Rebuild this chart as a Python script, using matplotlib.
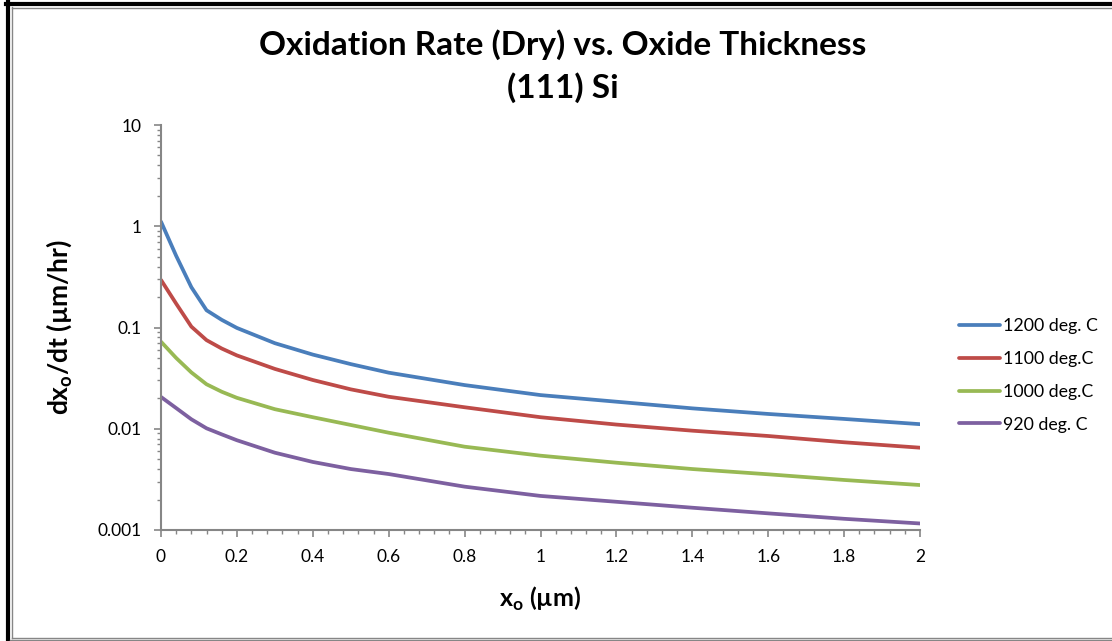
import matplotlib
matplotlib.use("Agg")
import matplotlib.pyplot as plt
from matplotlib.lines import Line2D
from matplotlib.ticker import LogLocator, MultipleLocator, FixedFormatter, FixedLocator

plt.rcParams['font.family'] = ['Lato', 'DejaVu Sans']

# oxide thickness (um)
x_o = [0, 0.04, 0.08, 0.12, 0.16, 0.2, 0.3, 0.4, 0.5, 0.6, 0.8,
       1.0, 1.2, 1.4, 1.6, 1.8, 2.0]

# oxidation rate dx/dt (um/hr)
rate_1200 = [1.11, 0.51, 0.25, 0.148, 0.119, 0.099, 0.070, 0.054, 0.0435, 0.0358, 0.027,
             0.0215, 0.0185, 0.0159, 0.0140, 0.0125, 0.0111]
rate_1100 = [0.295, 0.172, 0.102, 0.075, 0.062, 0.053, 0.039, 0.0303, 0.0245, 0.0207, 0.0163,
             0.0130, 0.0110, 0.00957, 0.00848, 0.00735, 0.0065]
rate_1000 = [0.0724, 0.050, 0.036, 0.0275, 0.0232, 0.0202, 0.0156, 0.0130, 0.0109, 0.00914, 0.00665,
             0.00542, 0.00462, 0.0040, 0.00355, 0.00312, 0.00278]
rate_920 = [0.0206, 0.0160, 0.0124, 0.0101, 0.0088, 0.0077, 0.0058, 0.0047, 0.0040, 0.00357, 0.00268,
            0.00217, 0.00190, 0.00166, 0.00146, 0.00129, 0.00116]

labels = ["1200 deg. C", "1100 deg.C", "1000 deg.C", "920 deg. C"]
colors = ["#4A7EBB", "#BE4B48", "#98B954", "#7D60A0"]

y_ticks = [0.001, 0.01, 0.1, 1, 10]
y_tick_labels = ["0.001", "0.01", "0.1", "1", "10"]

W, H = 1112, 641
fig = plt.figure(figsize=(W / 100, H / 100), dpi=100)
ax = fig.add_axes([161 / W, 1 - 530 / H, (920 - 161) / W, (530 - 125) / H])

for series, lab, col in zip([rate_1200, rate_1100, rate_1000, rate_920], labels, colors):
    ax.plot(x_o, series, color=col, lw=2.7, label=lab, solid_capstyle='round', solid_joinstyle='round')

ax.set_yscale('log')
ax.set_ylim(0.001, 10)
ax.set_xlim(0, 2)

grey = "#868686"
for s in ['top', 'right']:
    ax.spines[s].set_visible(False)
for s in ['left', 'bottom']:
    ax.spines[s].set_color(grey)
    ax.spines[s].set_linewidth(1.5)

ax.yaxis.set_major_locator(FixedLocator(y_ticks))
ax.yaxis.set_major_formatter(FixedFormatter(y_tick_labels))
ax.yaxis.set_minor_locator(LogLocator(base=10, subs=range(2, 10)))
ax.yaxis.set_minor_formatter(plt.NullFormatter())
ax.xaxis.set_major_locator(MultipleLocator(0.2))
ax.xaxis.set_minor_locator(MultipleLocator(0.04))
ax.xaxis.set_major_formatter(plt.FuncFormatter(lambda v, p: f"{v:g}"))

ax.tick_params(which='major', length=5, width=1.2, color=grey, labelsize=12.5, direction='out')
ax.tick_params(which='minor', length=3, width=1.0, color=grey, direction='out')
ax.tick_params(axis='x', which='major', pad=9)
ax.tick_params(axis='y', which='major', pad=9)

ax.set_xlabel("x$_\\mathregular{o}$ (µm)", fontsize=18, fontweight='bold', labelpad=14)
ax.set_ylabel("dx$_\\mathregular{o}$/dt (µm/hr)", fontsize=19, fontweight='bold', labelpad=17)

fig.text(0.506, 1 - 45 / H, "Oxidation Rate (Dry) vs. Oxide Thickness", ha='center', va='center',
         fontsize=24, fontweight='bold')
fig.text(0.506, 1 - 88 / H, "(111) Si", ha='center', va='center',
         fontsize=24, fontweight='bold')

leg = ax.legend(loc='upper left', bbox_to_anchor=(943 / W, 1 - 302 / H), bbox_transform=fig.transFigure,
                frameon=False, fontsize=12.8, handlelength=2.3, handletextpad=0.15, labelspacing=0.95)

# outer frame
fig.add_artist(Line2D([8 / W, 8 / W], [0, 1 - 2 / H], color='black', lw=3, transform=fig.transFigure))
fig.add_artist(Line2D([6 / W, 1], [1 - 4 / H, 1 - 4 / H], color='black', lw=3, transform=fig.transFigure))
fig.add_artist(Line2D([12 / W, 12 / W], [3 / H, 1 - 7 / H], color=grey, lw=1, transform=fig.transFigure))
fig.add_artist(Line2D([12 / W, 1], [1 - 7.5 / H, 1 - 7.5 / H], color=grey, lw=1, transform=fig.transFigure))
fig.add_artist(Line2D([12 / W, 1], [3.5 / H, 3.5 / H], color=grey, lw=1, transform=fig.transFigure))
fig.add_artist(Line2D([10 / W, 1], [1 / H, 1 / H], color=grey, lw=1, transform=fig.transFigure))

fig.savefig("out.png", dpi=100)
